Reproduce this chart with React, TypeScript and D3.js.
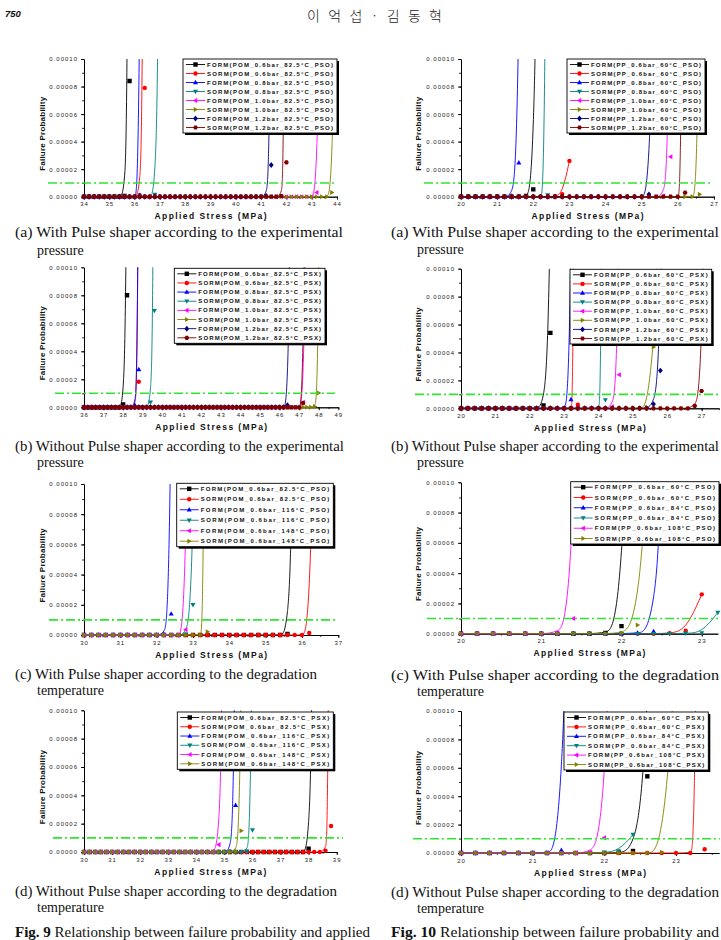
import * as d3 from 'd3';
import { useEffect, useRef } from 'react';

type Pt = [number, number];

// Failure probability vs applied stress (MPa). Each series is flat at zero
// (sampled every 0.2 MPa) from the axis minimum up to its first listed point.

// Fig. 9(a) POM, pulse shaper, 0.6-1.2 bar @ 82.5°C
const POM_PSO_BAR: Pt[][] = [
    [[35.6, 5e-7], [35.8, 8.4e-5], [36.0, 3e-3]],
    [[36.2, 1e-6], [36.4, 7.9e-5], [36.6, 3e-3]],
    [[36.2, 1.2e-6], [36.4, 8e-4], [36.6, 5e-3]],
    [[36.8, 1.5e-6], [37.0, 1.2e-4], [37.2, 1.5e-3]],
    [[43.2, 3e-6], [43.4, 2e-4], [43.6, 4e-3]],
    [[43.8, 3e-6], [44.0, 2e-4], [44.2, 4e-3]],
    [[41.2, 5e-7], [41.4, 2.3e-5], [41.6, 1.2e-3]],
    [[41.8, 5e-7], [42.0, 2.5e-5], [42.2, 4.2e-3]],
];

// Fig. 10(a) PP, pulse shaper, 0.6-1.2 bar @ 60°C
const PP_PSO_BAR: Pt[][] = [
    [[21.8, 5e-7], [22.0, 5.3e-6], [22.2, 3e-4], [22.4, 2e-3]],
    [[22.6, 3e-7], [22.8, 1.9e-6], [23.0, 2.6e-5]],
    [[21.4, 5e-7], [21.6, 2.47e-5], [21.8, 7e-4]],
    [[22.4, 1.2e-6], [22.6, 2.8e-3]],
    [[25.6, 5e-7], [25.8, 2.9e-5], [26.0, 1.2e-3]],
    [[26.6, 1.7e-6], [26.8, 1e-3]],
    [[25.2, 1.7e-6], [25.4, 2e-4], [25.6, 1.6e-3]],
    [[26.2, 2.9e-6], [26.4, 4.8e-3]],
];

// Fig. 9(b) POM, no pulse shaper
const POM_PSX_BAR: Pt[][] = [
    [[38.0, 2e-6], [38.2, 8e-5], [38.4, 9.3e-4]],
    [[38.6, 5e-7], [38.8, 1.83e-5], [39.0, 1.3e-3]],
    [[38.6, 1.5e-6], [38.8, 2.7e-5], [39.0, 1.3e-3]],
    [[39.4, 3.6e-6], [39.6, 6.9e-5], [39.8, 1.75e-3]],
    [[47.2, 3.6e-6], [47.4, 1.5e-4], [47.6, 1.5e-3]],
    [[47.8, 5e-7], [48.0, 1.02e-5], [48.2, 6e-4], [48.4, 4e-3]],
    [[46.4, 1.4e-6], [46.6, 1.5e-4], [46.8, 1.5e-3]],
    [[47.2, 3e-6], [47.4, 3e-4], [47.6, 3e-3]],
];

// Fig. 10(b) PP, no pulse shaper
const PP_PSX_BAR: Pt[][] = [
    [[22.4, 2e-6], [22.6, 5.4e-5], [22.8, 6.4e-4], [23.0, 4e-3]],
    [[23.4, 2.6e-6], [23.6, 1.4e-2]],
    [[23.2, 6.4e-6], [23.4, 7e-4], [23.6, 4e-3]],
    [[24.2, 6e-6], [24.4, 9e-3]],
    [[24.4, 1e-6], [24.6, 2.4e-5], [24.8, 7.2e-4], [25.0, 4e-3]],
    [[25.4, 5e-7], [25.6, 4.4e-5], [25.8, 1.2e-4], [26.0, 1e-3]],
    [[25.6, 3e-6], [25.8, 2.7e-5], [26.0, 4e-4], [26.2, 3e-3]],
    [[26.8, 1.7e-6], [27.0, 1.24e-5], [27.2, 3e-4], [27.4, 3e-3]],
];

// Fig. 9(c) POM, pulse shaper, 0.6 bar at 82.5/116/148°C
const POM_PSO_TEMP: Pt[][] = [
    [[35.6, 7e-7], [35.8, 9e-5], [36.0, 1.2e-3]],
    [[36.2, 1.3e-6], [36.4, 2e-4], [36.6, 1e-3]],
    [[32.2, 5e-7], [32.4, 1.4e-5], [32.6, 8.9e-4]],
    [[32.8, 5e-7], [33.0, 2e-5], [33.2, 4e-4], [33.4, 3e-3]],
    [[32.8, 3.5e-6], [33.0, 4e-4], [33.2, 3e-3]],
    [[33.4, 2.2e-6], [33.6, 5.5e-3]],
];

// Fig. 10(c) PP, pulse shaper, 0.6 bar at 60/84/108°C
const PP_PSO_TEMP: Pt[][] = [
    [[21.8, 5e-7], [22.0, 5e-6], [22.2, 3.1e-4], [22.4, 3e-3]],
    [[22.6, 3e-7], [22.8, 2e-6], [23.0, 2.6e-5]],
    [[22.2, 5e-7], [22.4, 1.5e-6], [22.6, 1.4e-4], [22.8, 2.4e-3]],
    [[22.8, 3e-7], [23.0, 5e-7], [23.2, 1.4e-5]],
    [[21.2, 5e-7], [21.4, 1e-5], [21.6, 5e-4], [21.8, 5e-3]],
    [[22.0, 5e-7], [22.2, 5.7e-6], [22.4, 1.5e-4], [22.6, 1e-3]],
];

// Fig. 9(d) POM, no pulse shaper
const POM_PSX_TEMP: Pt[][] = [
    [[38.0, 2.3e-6], [38.2, 1.2e-4], [38.4, 1.6e-3]],
    [[38.6, 1e-6], [38.8, 1.84e-5], [39.0, 4.7e-3]],
    [[35.2, 5e-7], [35.4, 3.3e-5], [35.6, 1.1e-3]],
    [[35.8, 5e-7], [36.0, 1.55e-5], [36.2, 1.1e-3]],
    [[34.8, 5.2e-6], [35.0, 1.2e-4], [35.2, 2e-3]],
    [[35.4, 5e-7], [35.6, 1.5e-5], [35.8, 7e-4]],
];

// Fig. 10(d) PP, no pulse shaper
const PP_PSX_TEMP: Pt[][] = [
    [[22.2, 3e-7], [22.4, 1.4e-6], [22.6, 5.4e-5], [22.8, 4.6e-4], [23.0, 3e-3]],
    [[23.4, 2.6e-6], [23.6, 1.3e-2]],
    [[21.4, 2e-6], [21.6, 3.6e-4], [21.8, 3e-3]],
    [[22.0, 3e-7], [22.2, 1.4e-6], [22.4, 1.3e-5]],
    [[21.8, 5e-7], [22.0, 1.08e-5], [22.2, 3.1e-4], [22.4, 3e-3]],
    [[22.8, 5e-7], [23.0, 1.2e-4], [23.2, 4e-4], [23.4, 3e-3]],
];

const METHODS = ['FORM', 'SORM'];
const BAR_LEVELS = ['0.6', '0.8', '1.0', '1.2'];
const POM_TEMPS = ['82.5', '116', '148'];
const PP_TEMPS = ['60', '84', '108'];

const Y_TICKS = [0, 0.00002, 0.00004, 0.00006, 0.00008, 0.0001];
const THRESHOLD = 0.00001;

const CAPTIONS = [
    ['(a) With Pulse shaper according to the experimental', 'pressure'],
    ['(b) Without Pulse shaper according to the experimental', 'pressure'],
    ['(c) With Pulse shaper according to the degradation', 'temperature'],
    ['(d) Without Pulse shaper according to the degradation', 'temperature'],
];
const FIG_CAPTIONS = [
    ['Fig. 9', ' Relationship between failure probability and applied'],
    ['Fig. 10', ' Relationship between failure probability and'],
];

const COLORS = ['#000000', '#ff0000', '#0000ff', '#008080', '#ff00ff', '#808000', '#000080', '#800000'];
const SYMBOLS = ['square', 'circle', 'up', 'down', 'left', 'right', 'diamond', 'hexagon'];
const GREEN = '#2ee62e';
const SANS = '"Liberation Sans", Arial, sans-serif';
const SERIF = '"Liberation Serif", "Times New Roman", serif';

const barLabels = (mat: string, temp: string, shaper: string) =>
    BAR_LEVELS.flatMap((b) => METHODS.map((m) => `${m}(${mat}_${b}bar_${temp}°C_${shaper})`));
const tempLabels = (mat: string, temps: string[], shaper: string) =>
    temps.flatMap((t) => METHODS.map((m) => `${m}(${mat}_0.6bar_${t}°C_${shaper})`));

// box: [left, top, right, bottom]; legend: [x, y, w, h]
const panels: any[] = [
    { data: POM_PSO_BAR, labels: barLabels('POM', '82.5', 'PSO'), domain: [34, 44], box: [84, 59, 337, 196.7], legend: [183, 59, 154, 74], green: [48, 337], ylab: 42 },
    { data: PP_PSO_BAR, labels: barLabels('PP', '60', 'PSO'), domain: [20, 27], box: [461, 59, 714, 196.7], legend: [567, 59, 138, 74], green: [424, 713], ylab: 418 },
    { data: POM_PSX_BAR, labels: barLabels('POM', '82.5', 'PSX'), domain: [36, 49], box: [84, 267.3, 338.3, 407.3], legend: [174.3, 268.3, 150.7, 75], green: [55, 335], ylab: 42 },
    { data: PP_PSX_BAR, labels: barLabels('PP', '60', 'PSX'), domain: [20, 27.5], box: [461, 268.7, 718.8, 408.3], legend: [570, 269.3, 141.7, 74.7], green: [415, 721], ylab: 418 },
    { data: POM_PSO_TEMP, labels: tempLabels('POM', POM_TEMPS, 'PSO'), domain: [30, 37], box: [84, 484, 338.3, 635], legend: [176.7, 483.3, 156.6, 63.4], green: [49, 337], ylab: 42 },
    { data: PP_PSO_TEMP, labels: tempLabels('PP', PP_TEMPS, 'PSO'), domain: [20, 23.2], box: [461, 482.3, 717.8, 633.7], legend: [570.7, 481.7, 148.3, 62.3], green: [427, 718], ylab: 418 },
    { data: POM_PSX_TEMP, labels: tempLabels('POM', POM_TEMPS, 'PSX'), domain: [30, 39], box: [84, 710.3, 336.7, 852], legend: [177.3, 712, 156, 57.3], green: [53, 343], ylab: 42 },
    { data: PP_PSX_TEMP, labels: tempLabels('PP', PP_TEMPS, 'PSX'), domain: [20, 23.6], box: [461, 711, 719, 853], legend: [564, 712, 144.3, 58], green: [413, 720], ylab: 418 },
];

// caption rows: [baseline 1, baseline 2, width of first line]
const leftRows = [[237, 255, 328], [451, 467, 329], [679, 695, 302], [896, 912, 322]];
const rightRows = [[237, 254, 328], [451, 467, 328], [680, 696, 328], [897, 913, 328]];

function markerPath(kind: string, r: number): string {
    switch (kind) {
        case 'square':
            return `M${-r},${-r}h${2 * r}v${2 * r}h${-2 * r}Z`;
        case 'circle':
            return `M${r},0A${r},${r} 0 1,1 ${-r},0A${r},${r} 0 1,1 ${r},0Z`;
        case 'up':
            return `M0,${-r * 1.2}L${r * 1.15},${r * 0.8}L${-r * 1.15},${r * 0.8}Z`;
        case 'down':
            return `M0,${r * 1.2}L${r * 1.15},${-r * 0.8}L${-r * 1.15},${-r * 0.8}Z`;
        case 'left':
            return `M${-r * 1.2},0L${r * 0.8},${-r * 1.15}L${r * 0.8},${r * 1.15}Z`;
        case 'right':
            return `M${r * 1.2},0L${-r * 0.8},${-r * 1.15}L${-r * 0.8},${r * 1.15}Z`;
        case 'diamond':
            return `M0,${-r * 1.35}L${r * 1.1},0L0,${r * 1.35}L${-r * 1.1},0Z`;
        default: {
            const pts = d3.range(6).map((k) => {
                const a = (Math.PI / 3) * k;
                return `${(r * 1.1 * Math.cos(a)).toFixed(2)},${(r * 1.1 * Math.sin(a)).toFixed(2)}`;
            });
            return `M${pts.join('L')}Z`;
        }
    }
}

// zero samples every 0.2 MPa ahead of the listed points
function withBaseline(min: number, pts: Pt[]): Pt[] {
    const flat: Pt[] = [];
    for (let k = 0; ; k++) {
        const v = +(min + k * 0.2).toFixed(1);
        if (v >= pts[0][0] - 1e-9) break;
        flat.push([v, 0]);
    }
    return flat.concat(pts);
}

function drawPanel(svg: any, p: any, idx: number) {
    const [x0, y0, x1, y1] = p.box;
    const x = d3.scaleLinear().domain(p.domain).range([x0, x1]);
    const y = d3.scaleLinear().domain([0, 0.0001]).range([y1, y0]);
    const g = svg.append('g').attr('class', `panel-${idx}`);

    const clipId = `plot-clip-${idx}`;
    g.append('clipPath').attr('id', clipId)
        .append('rect')
        .attr('x', x0 - 3).attr('y', y0)
        .attr('width', x1 - x0 + 6).attr('height', y1 - y0 + 4);

    // axes
    const majors = d3.range(Math.ceil(p.domain[0]), Math.floor(p.domain[1]) + 1);
    const minors = d3.range(p.domain[0], p.domain[1] + 1e-9, 0.5);
    const yMinors = d3.range(0, 0.0001 + 1e-12, 0.00001);

    const xMinorAxis = d3.axisBottom(x).tickValues(minors).tickSize(1.8).tickSizeOuter(0).tickFormat(() => '');
    const yMinorAxis = d3.axisLeft(y).tickValues(yMinors).tickSize(1.8).tickSizeOuter(0).tickFormat(() => '');
    g.append('g').attr('transform', `translate(0,${y1})`).call(xMinorAxis);
    g.append('g').attr('transform', `translate(${x0},0)`).call(yMinorAxis);

    const xAxis = d3.axisBottom(x).tickValues(majors).tickSize(3).tickSizeOuter(0).tickPadding(2.3).tickFormat(d3.format('d') as any);
    const yAxis = d3.axisLeft(y).tickValues(Y_TICKS).tickSize(3).tickSizeOuter(0).tickPadding(3).tickFormat(d3.format('.5f') as any);
    g.append('g').attr('class', 'x-axis').attr('transform', `translate(0,${y1})`).call(xAxis);
    g.append('g').attr('class', 'y-axis').attr('transform', `translate(${x0},0)`).call(yAxis);

    g.selectAll('.domain, .tick line').attr('stroke', '#000').attr('stroke-width', 0.9);
    g.selectAll('.tick text')
        .attr('fill', '#222')
        .style('font-family', SANS)
        .style('font-size', '6px')
        .style('letter-spacing', '1px');

    // series
    const line = d3.line<Pt>().x((d) => x(d[0])).y((d) => y(d[1])).curve(d3.curveBasis);
    const plot = g.append('g').attr('clip-path', `url(#${clipId})`);
    p.data.forEach((pts: Pt[], i: number) => {
        const full = withBaseline(p.domain[0], pts);
        const sg = plot.append('g');
        sg.append('path')
            .attr('d', line(full))
            .attr('fill', 'none')
            .attr('stroke', COLORS[i])
            .attr('stroke-width', 0.9);
        sg.selectAll('.marker').data(full).join('path')
            .attr('class', 'marker')
            .attr('d', markerPath(SYMBOLS[i], 2.2))
            .attr('transform', (d: Pt) => `translate(${x(d[0])},${y(d[1])})`)
            .attr('fill', COLORS[i]);
    });

    // 1e-5 threshold
    g.append('line')
        .attr('x1', p.green[0]).attr('x2', p.green[1])
        .attr('y1', y(THRESHOLD)).attr('y2', y(THRESHOLD))
        .attr('stroke', GREEN)
        .attr('stroke-width', 1.6)
        .attr('stroke-dasharray', '9,3,2,3');

    // legend
    const [lx, ly, lw, lh] = p.legend;
    const lg = g.append('g').attr('class', 'legend');
    lg.append('rect').attr('x', lx + 2).attr('y', ly + 2).attr('width', lw).attr('height', lh).attr('fill', '#000');
    lg.append('rect').attr('x', lx).attr('y', ly).attr('width', lw).attr('height', lh)
        .attr('fill', '#fff').attr('stroke', '#000').attr('stroke-width', 0.9);
    const n = p.labels.length;
    const step = (lh - 11) / (n - 1);
    p.labels.forEach((label: string, i: number) => {
        const cy = ly + 5.5 + i * step;
        lg.append('line')
            .attr('x1', lx + 3).attr('x2', lx + 22)
            .attr('y1', cy).attr('y2', cy)
            .attr('stroke', COLORS[i]).attr('stroke-width', 0.9);
        lg.append('path')
            .attr('d', markerPath(SYMBOLS[i], 2.2))
            .attr('transform', `translate(${lx + 12.5},${cy})`)
            .attr('fill', COLORS[i]);
        lg.append('text')
            .attr('x', lx + 24).attr('y', cy + 2.1)
            .attr('textLength', lw - 28)
            .attr('lengthAdjust', 'spacing')
            .style('font-family', SANS)
            .style('font-size', '6px')
            .style('font-weight', 'bold')
            .attr('fill', '#111')
            .text(label);
    });

    // axis titles
    g.append('text')
        .attr('x', (x0 + x1) / 2).attr('y', y1 + 22.5)
        .attr('text-anchor', 'middle')
        .attr('textLength', 112)
        .attr('lengthAdjust', 'spacing')
        .style('font-family', SANS)
        .style('font-size', '8.5px')
        .style('font-weight', 'bold')
        .attr('fill', '#111')
        .text('Applied Stress (MPa)');
    g.append('text')
        .attr('transform', `translate(${p.ylab + 3},${(y0 + y1) / 2 + 6}) rotate(-90)`)
        .attr('text-anchor', 'middle')
        .attr('textLength', 74)
        .attr('lengthAdjust', 'spacing')
        .style('font-family', SANS)
        .style('font-size', '8px')
        .style('font-weight', 'bold')
        .attr('fill', '#111')
        .text('Failure Probability');
}

function captionLine(svg: any, x: number, yb: number, text: string, width?: number) {
    const t = svg.append('text')
        .attr('x', x).attr('y', yb)
        .style('font-family', SERIF)
        .style('font-size', '14px')
        .attr('fill', '#111')
        .text(text);
    if (width) t.attr('textLength', width).attr('lengthAdjust', 'spacingAndGlyphs');
}

export default function App() {
    const ref = useRef<any>();

    useEffect(() => {
        const svg = d3.select(ref.current);
        svg.selectAll('*').remove();

        svg.append('rect').attr('width', 721).attr('height', 940).attr('fill', '#fff');

        // running head
        svg.append('text')
            .attr('x', 5).attr('y', 17)
            .style('font-family', SANS)
            .style('font-size', '9.5px')
            .style('font-weight', 'bold')
            .style('font-style', 'italic')
            .attr('fill', '#111')
            .text('750');
        svg.append('text')
            .attr('x', 307).attr('y', 21)
            .attr('textLength', 135)
            .attr('lengthAdjust', 'spacing')
            .style('font-family', '"Noto Sans CJK KR", sans-serif')
            .style('font-size', '14px')
            .style('font-weight', 300)
            .attr('fill', '#222')
            .text('이 억 섭 · 김 동 혁');

        panels.forEach((p, i) => drawPanel(svg, p, i));

        CAPTIONS.forEach((c, i) => {
            const [lb1, lb2, lw] = leftRows[i];
            const [rb1, rb2, rw] = rightRows[i];
            captionLine(svg, 15, lb1, c[0], lw);
            captionLine(svg, 37, lb2, c[1]);
            captionLine(svg, 391, rb1, c[0], rw);
            captionLine(svg, 417, rb2, c[1]);
        });

        FIG_CAPTIONS.forEach((c, i) => {
            const t = svg.append('text')
                .attr('x', i === 0 ? 15 : 391).attr('y', 937)
                .attr('textLength', i === 0 ? 355 : 328)
                .attr('lengthAdjust', 'spacingAndGlyphs')
                .style('font-family', SERIF)
                .style('font-size', '14px')
                .attr('fill', '#111');
            t.append('tspan').style('font-weight', 'bold').text(c[0]);
            t.append('tspan').text(c[1]);
        });
    }, []);

    return (
        <svg
            ref={ref}
            width={721}
            height={940}
            style={{ position: 'absolute', left: 0, top: 0 }}
        />
    );
}
